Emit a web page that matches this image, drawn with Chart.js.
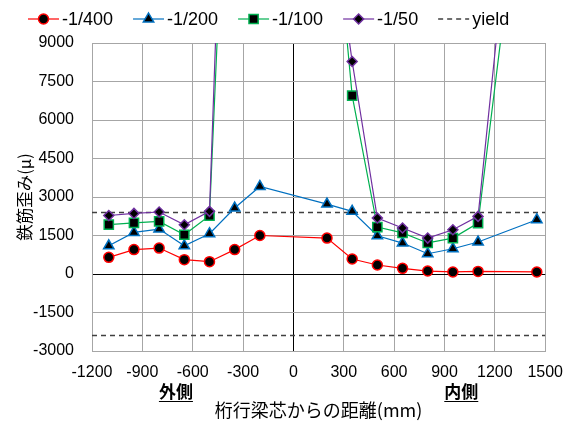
<!DOCTYPE html>
<html>
<head>
<meta charset="utf-8">
<script src="https://cdn.jsdelivr.net/npm/chart.js@4"></script>
<style>
  html, body { margin: 0; padding: 0; background: #fff; }
</style>
</head>
<body>
<canvas id="myChart" width="575" height="430"></canvas>
<script>
// distance from girder centre (mm)
const distances = [-1100, -950, -800, -650, -500, -350, -200, 200, 350, 500, 650, 800, 950, 1100, 1450];

// rebar strain (μ) for each drift ratio
const strain400 = [650, 950, 1010, 560, 480, 950, 1500, 1400, 585, 350, 220, 115, 80, 100, 80];
const strain200 = [1100, 1620, 1750, 1100, 1570, 2570, 3410, 2725, 2440, 1490, 1205, 790, 985, 1245, 2115];
const strain100 = [1920, 1990, 2050, 1530, 2270, 24700, 27000, 17500, 6950, 1830, 1600, 1210, 1400, 1985, 20500];
const strain50 = [2280, 2360, 2415, 1920, 2440, 30100, 33000, 15300, 8280, 2180, 1790, 1400, 1725, 2245, 24400];

const yieldStrain = 2400;

const seriesNames = ['-1/400', '-1/200', '-1/100', '-1/50'];
const sideLabels = ['外側', '内側'];
const sideLabelPos = [-700, 1000];

const xMin = -1200, xMax = 1500, xStep = 300;
const yMin = -3000, yMax = 9000, yStep = 1500;

const jpFont = '"Noto Sans CJK JP", sans-serif';
const numFont = '"Liberation Sans", Arial, sans-serif';

const seriesStyle = [
  { color: '#ff0000', point: 'circle', radius: 5 },
  { color: '#0070c0', point: 'triangle', radius: 6 },
  { color: '#00b050', point: 'rect', radius: 6.5 },
  { color: '#7030a0', point: 'rectRot', radius: 5 },
];

function toPoints(vals) {
  return distances.map((x, i) => ({ x: x, y: vals[i] }));
}

const allSeries = [strain400, strain200, strain100, strain50];

const datasets = allSeries.map((vals, i) => ({
  label: seriesNames[i],
  data: toPoints(vals),
  borderColor: seriesStyle[i].color,
  borderWidth: 1.2,
  pointStyle: seriesStyle[i].point,
  pointRadius: seriesStyle[i].radius,
  pointBackgroundColor: '#000',
  pointBorderColor: seriesStyle[i].color,
  pointBorderWidth: 1.5,
  tension: 0,
  order: 3 - i,
}));

datasets.push({
  label: 'yield',
  data: [
    { x: xMin, y: yieldStrain }, { x: xMax, y: yieldStrain },
    { x: xMax, y: null },
    { x: xMin, y: -yieldStrain }, { x: xMax, y: -yieldStrain },
  ],
  borderColor: '#404040',
  borderWidth: 1.5,
  borderDash: [5, 4],
  pointRadius: 0,
  spanGaps: false,
  order: 10,
});

function drawMarker(ctx, style, r, x, y) {
  ctx.beginPath();
  if (style === 'circle') {
    ctx.arc(x, y, r, 0, Math.PI * 2);
  } else if (style === 'triangle') {
    ctx.moveTo(x, y - r);
    ctx.lineTo(x + r * 0.866, y + r * 0.5);
    ctx.lineTo(x - r * 0.866, y + r * 0.5);
    ctx.closePath();
  } else if (style === 'rect') {
    const s = r * Math.SQRT1_2;
    ctx.rect(x - s, y - s, 2 * s, 2 * s);
  } else {
    ctx.moveTo(x, y - r);
    ctx.lineTo(x + r, y);
    ctx.lineTo(x, y + r);
    ctx.lineTo(x - r, y);
    ctx.closePath();
  }
  ctx.fill();
  ctx.stroke();
}

// legend with line + marker, like the spreadsheet one
const lineLegend = {
  id: 'lineLegend',
  afterDraw(chart) {
    const ctx = chart.ctx;
    let x = 28;
    const y = 19;
    ctx.save();
    ctx.font = '18px ' + numFont;
    ctx.textBaseline = 'middle';
    chart.data.datasets.forEach(ds => {
      ctx.strokeStyle = ds.borderColor;
      ctx.lineWidth = ds.borderWidth;
      ctx.setLineDash(ds.borderDash || []);
      ctx.beginPath();
      ctx.moveTo(x, y);
      ctx.lineTo(x + 31, y);
      ctx.stroke();
      ctx.setLineDash([]);
      if (ds.pointRadius > 0) {
        ctx.fillStyle = '#000';
        ctx.lineWidth = ds.pointBorderWidth;
        drawMarker(ctx, ds.pointStyle, ds.pointRadius, x + 15.5, y);
      }
      ctx.fillStyle = '#000';
      ctx.fillText(ds.label, x + 34, y + 1);
      x += 34 + ctx.measureText(ds.label).width + 20;
    });
    ctx.restore();
  }
};

// 外側 / 内側 under the x ticks
const sideNotes = {
  id: 'sideNotes',
  afterDraw(chart) {
    const ctx = chart.ctx;
    const xs = chart.scales.x;
    ctx.save();
    ctx.font = 'bold 17px ' + jpFont;
    ctx.textAlign = 'center';
    ctx.textBaseline = 'middle';
    ctx.fillStyle = '#000';
    ctx.strokeStyle = '#000';
    ctx.lineWidth = 1.2;
    sideLabels.forEach((t, i) => {
      const px = xs.getPixelForValue(sideLabelPos[i]);
      ctx.fillText(t, px, 392);
      const w = ctx.measureText(t).width;
      ctx.beginPath();
      ctx.moveTo(px - w / 2, 401.5);
      ctx.lineTo(px + w / 2, 401.5);
      ctx.stroke();
    });
    ctx.restore();
  }
};

const gridColor = c => (c.tick && c.tick.value === 0 ? '#000' : '#a6a6a6');
const plainNumber = v => String(v);

const config = {
  type: 'line',
  data: { datasets: datasets },
  options: {
    responsive: false,
    animation: false,
    layout: { padding: { top: 43, right: 27, left: 0, bottom: 0 } },
    plugins: {
      legend: { display: false },
      tooltip: { enabled: false },
    },
    scales: {
      x: {
        type: 'linear',
        min: xMin,
        max: xMax,
        ticks: {
          stepSize: xStep,
          color: '#000',
          font: { family: numFont, size: 16 },
          padding: 12,
          maxRotation: 0,
          callback: plainNumber,
        },
        grid: { color: gridColor, lineWidth: 1, drawTicks: false },
        border: { color: '#a6a6a6' },
        title: {
          display: true,
          text: '桁行梁芯からの距離(mm)',
          color: '#000',
          font: { family: jpFont, size: 18 },
          padding: { top: 0, bottom: 9 },
        },
        afterFit: s => { s.height = 79; },
      },
      y: {
        min: yMin,
        max: yMax,
        ticks: {
          stepSize: yStep,
          color: '#000',
          font: { family: numFont, size: 16 },
          padding: 18,
          callback: plainNumber,
        },
        grid: { color: gridColor, lineWidth: 1, drawTicks: false },
        border: { color: '#a6a6a6' },
        title: {
          display: true,
          text: '鉄筋歪み(μ)',
          color: '#000',
          font: { family: jpFont, size: 16.5 },
          padding: { top: 15, bottom: 0 },
        },
        afterFit: s => { s.width = 92; },
      },
    },
  },
  plugins: [lineLegend, sideNotes],
};

const myChart = new Chart(document.getElementById('myChart'), config);
</script>
</body>
</html>
